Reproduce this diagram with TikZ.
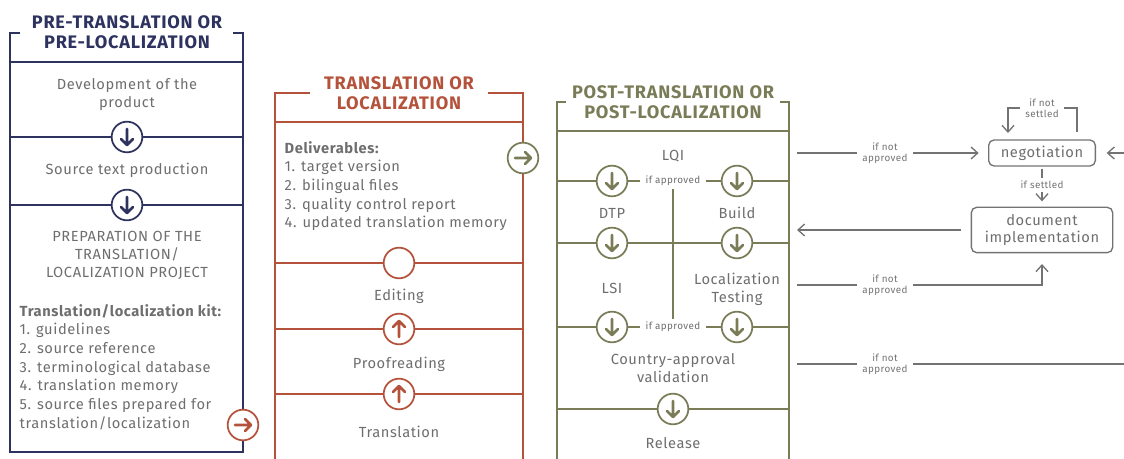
\documentclass[tikz,border=0pt]{standalone}
\usepackage{fontspec}
\setmainfont{Fira Sans}[LetterSpace=4]
\usetikzlibrary{arrows.meta}
\definecolor{navy}{RGB}{45,50,95}
\definecolor{rust}{RGB}{181,82,59}
\definecolor{olive}{RGB}{122,124,88}
\definecolor{txt}{RGB}{110,110,110}
\definecolor{wire}{RGB}{115,115,115}
\tikzset{
  stage/.style={text=txt, font=\fontsize{11}{13.5}\selectfont, align=center},
  kit/.style={text=txt, font=\fontsize{11}{14}\selectfont, align=left, anchor=west},
  head/.style={font=\bfseries\fontsize{13.6}{15}\selectfont, align=center},
  note/.style={text=wire, font=\fontsize{7.4}{8.3}\selectfont, align=center, inner sep=4pt},
  knob/.style={circle, draw=#1, fill=white, line width=1.3pt, minimum size=23pt, inner sep=0pt},
  tipline/.style={#1, line width=1.9pt, line cap=round, line join=round},
  dn/.style={knob=#1, path picture={\draw[tipline=#1] (path picture bounding box.center)
      ++(0pt,6pt) -- ++(0pt,-12pt) -- ++(-4.5pt,4.5pt) ++(4.5pt,-4.5pt) -- ++(4.5pt,4.5pt);}},
  up/.style={knob=#1, path picture={\draw[tipline=#1] (path picture bounding box.center)
      ++(0pt,-6pt) -- ++(0pt,12pt) -- ++(-4.5pt,-4.5pt) ++(4.5pt,4.5pt) -- ++(4.5pt,-4.5pt);}},
  rt/.style={knob=#1, path picture={\draw[tipline=#1] (path picture bounding box.center)
      ++(-6pt,0pt) -- ++(12pt,0pt) -- ++(-4.5pt,4.5pt) ++(4.5pt,-4.5pt) -- ++(-4.5pt,-4.5pt);}},
  wire/.style={draw=wire, line width=1pt},
  arr/.style={wire, -{Straight Barb[length=5pt,width=9pt]}},
  blob/.style={draw=wire, line width=1pt, rounded corners=4pt, text=txt, align=center,
      font=\fontsize{11}{13}\selectfont}
}
\begin{document}
\begin{tikzpicture}[x=0.75pt, y=-0.75pt]
        \useasboundingbox (0,0) rectangle (1124,459);

        % pre-translation
        \draw[navy, line width=1.5pt] (20,33) -| (10,452) -| (243,33) -- (233,33);
        \draw[navy, line width=1.5pt] (10,62) -- (243,62);
        \draw[navy, line width=1.5pt] (10,137) -- (243,137);
        \draw[navy, line width=1.5pt] (10,205) -- (243,205);
        \node[head, text=navy] (t1) at (127,32) {PRE-TRANSLATION OR\\PRE-LOCALIZATION};
        \node[stage] (dev) at (127,95) {Development of the\\product};
        \node[dn=navy] (d1) at (127,137) {};
        \node[stage] (src) at (127,170) {Source text production};
        \node[dn=navy] (d2) at (127,205) {};
        \node[stage] (prep) at (127,255) {PREPARATION OF THE\\TRANSLATION/\\LOCALIZATION PROJECT};
        \node[kit] (kit) at (15,367) {\textbf{Translation/localization kit:}\\1. guidelines\\2. source reference\\
            3. terminological database\\4. translation memory\\5. source files prepared for\\translation/localization};
        \node[rt=rust] (go1) at (243,425) {};

        % translation
        \draw[rust, line width=1.5pt] (310,93) -| (275,459);
        \draw[rust, line width=1.5pt] (488,93) -| (523,459);
        \draw[rust, line width=1.5pt] (275,122) -- (523,122);
        \draw[rust, line width=1.5pt] (275,263) -- (523,263);
        \draw[rust, line width=1.5pt] (275,329) -- (523,329);
        \draw[rust, line width=1.5pt] (275,394) -- (523,394);
        \node[head, text=rust] (t2) at (399,93) {TRANSLATION OR\\LOCALIZATION};
        \node[kit] (deliv) at (280,186) {\textbf{Deliverables:}\\1. target version\\2. bilingual files\\
            3. quality control report\\4. updated translation memory};
        \node[rt=olive] (go2) at (523,158) {};
        \node[knob=rust] (e0) at (399,263) {};
        \node[stage] (edit) at (399,296) {Editing};
        \node[up=rust] (u1) at (399,329) {};
        \node[stage] (proof) at (399,364) {Proofreading};
        \node[up=rust] (u2) at (399,394) {};
        \node[stage] (trans) at (399,432) {Translation};

        % post-translation
        \draw[olive, line width=1.5pt] (566,102) -| (557,459);
        \draw[olive, line width=1.5pt] (780,102) -| (789,459);
        \draw[olive, line width=1.5pt] (557,131) -- (789,131);
        \draw[olive, line width=1.5pt] (557,181) -- (789,181);
        \draw[olive, line width=1.5pt] (557,243) -- (789,243);
        \draw[olive, line width=1.5pt] (557,327) -- (789,327);
        \draw[olive, line width=1.5pt] (557,409) -- (789,409);
        \node[head, text=olive] (t3) at (673,102) {POST-TRANSLATION OR\\POST-LOCALIZATION};
        \node[stage] (lqi) at (673,156) {LQI};
        \node[note, text=txt, fill=white, inner ysep=2pt] (ok1) at (673,181) {if approved};
        \node[note, text=txt, fill=white, inner ysep=2pt] (ok2) at (673,327) {if approved};
        \draw[olive, line width=1.5pt] (ok1) -- (ok2);
        \node[dn=olive] (a1) at (612,181) {};
        \node[dn=olive] (b1) at (737,181) {};
        \node[stage] (dtp) at (612,213) {DTP};
        \node[stage] (build) at (737,213) {Build};
        \node[dn=olive] (a2) at (612,243) {};
        \node[dn=olive] (b2) at (737,243) {};
        \node[stage] (lsi) at (612,288) {LSI};
        \node[stage] (test) at (737,289) {Localization\\Testing};
        \node[dn=olive] (a3) at (612,327) {};
        \node[dn=olive] (b3) at (737,327) {};
        \node[stage] (cav) at (673,368) {Country-approval\\validation};
        \node[dn=olive] (c1) at (673,409) {};
        \node[stage] (rel) at (673,443) {Release};

        % feedback loop
        \node[blob, minimum width=80pt, minimum height=19.5pt] (nego) at (1042,153) {negotiation};
        \node[blob, minimum width=106pt, minimum height=34pt] (impl) at (1042,230) {document\\implementation};
        \node[note] (ns) at (1042,108) {if not\\settled};
        \node[note, inner sep=2pt] (st) at (1042,185) {if settled};
        \coordinate (lp1) at (1077,132);
        \coordinate (lp2) at (1008,133);
        \draw[wire] (lp1) |- (ns);
        \draw[arr] (ns) -| (lp2);
        \draw[wire, shorten <=1.5pt] (nego) -- (st);
        \draw[arr, shorten >=4pt] (st) -- (impl);

        \coordinate (r1) at (797,153);
        \coordinate (r2) at (797,230);
        \coordinate (r3) at (797,285);
        \coordinate (r4) at (797,364);
        \coordinate (e1) at (1124,153);
        \coordinate (e4) at (1124,364);
        \node[note] (n1) at (885,153) {if not\\approved};
        \node[note] (n3) at (885,285) {if not\\approved};
        \node[note] (n4) at (885,364) {if not\\approved};
        \draw[wire] (r1) -- (n1);
        \draw[arr, shorten >=7pt] (n1) -- (nego);
        \draw[arr, shorten >=8pt] (e1) -- (nego);
        \draw[arr, shorten <=7pt] (impl) -- (r2);
        \draw[wire] (r3) -- (n3);
        \draw[arr, shorten >=8pt] (n3) -| (impl);
        \draw[wire] (r4) -- (n4);
        \draw[wire] (n4) -- (e4);

    \end{tikzpicture}
\end{document}
